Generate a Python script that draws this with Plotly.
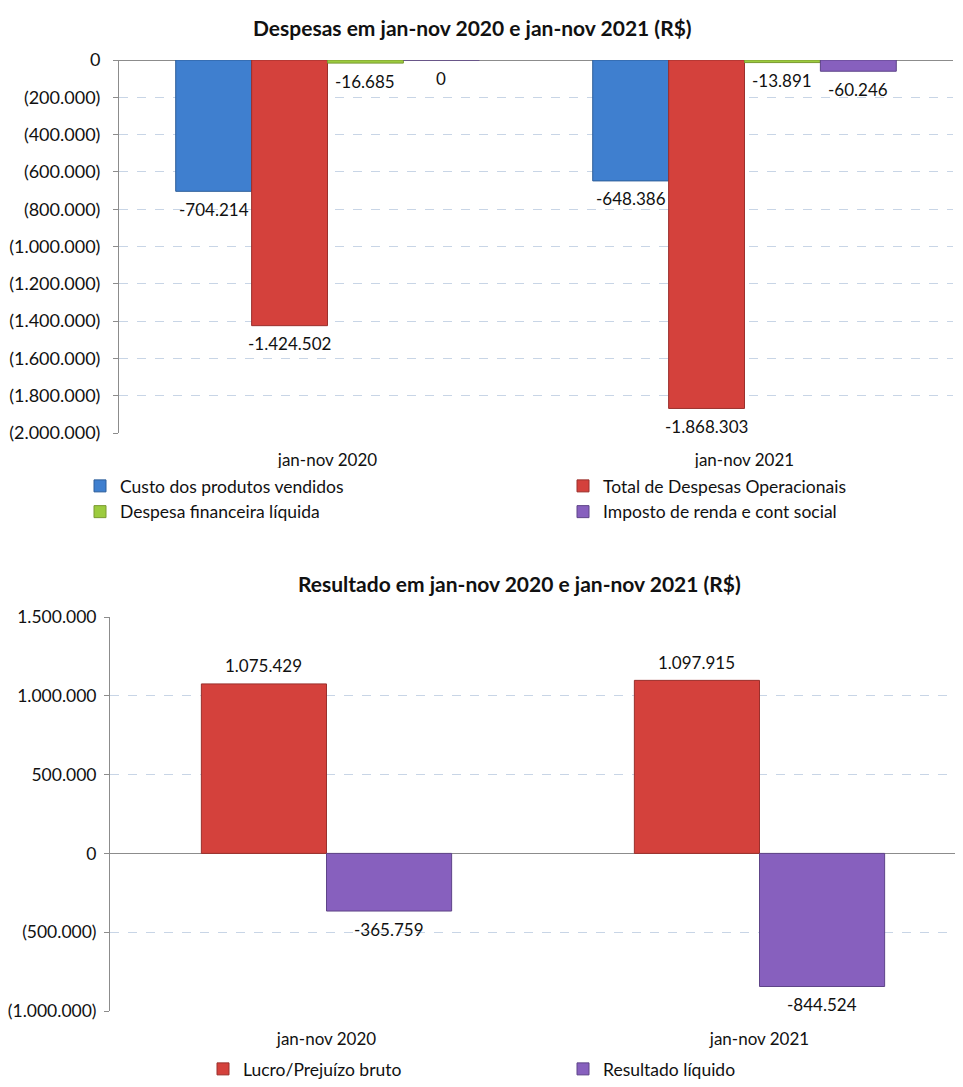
import plotly.graph_objects as go

categories = ["jan-nov 2020", "jan-nov 2021"]
custo_produtos = [-704214, -648386]
despesas_operacionais = [-1424502, -1868303]
despesa_financeira = [-16685, -13891]
imposto_renda = [0, -60246]
lucro_bruto = [1075429, 1097915]
resultado_liquido = [-365759, -844524]

y1_ticks = [0, -200000, -400000, -600000, -800000, -1000000, -1200000,
            -1400000, -1600000, -1800000, -2000000]
y1_text = ["0", "(200.000)", "(400.000)", "(600.000)", "(800.000)", "(1.000.000)",
           "(1.200.000)", "(1.400.000)", "(1.600.000)", "(1.800.000)", "(2.000.000)"]
y2_ticks = [1500000, 1000000, 500000, 0, -500000, -1000000]
y2_text = ["1.500.000", "1.000.000", "500.000", "0", "(500.000)", "(1.000.000)"]

BLUE = "#3F7FCF"
RED = "#D4413C"
GREEN = "#9CCB3E"
PURPLE = "#8760BE"
FONT = "Lato"
TXT = "#111111"
# page body keeps its default 8px margin, so the figure is 16px smaller than the window
W, H = 947, 1071


def fmt(v):
    return f"{v:,}".replace(",", ".")


BW1 = 0.182  # bar width (category units) chart 1
BW2 = 0.289  # bar width chart 2

X1 = [111 / W, 945 / W]
X2 = [102 / W, 1.0]
Y1 = [1 - 425 / H, 1 - 52 / H]
Y2 = [1 - 1003 / H, 1 - 609 / H]
CAT2_PX = 433                      # pixels per category in chart 2 (plot runs past the edge)
X2_RANGE = [-0.5, -0.5 + (X2[1] - X2[0]) * W / CAT2_PX]
px_cat1 = (X1[1] - X1[0]) * W / len(categories)
px_cat2 = CAT2_PX

fig = go.Figure()
annotations = []


def add_bar(name, vals, color, edge, xa, ya, legend, width, offset, px_cat):
    fig.add_trace(go.Bar(
        name=name, x=categories, y=vals, xaxis=xa, yaxis=ya, legend=legend,
        width=width, offset=offset, legendgroup=name,
        marker=dict(color=color, line=dict(color=edge, width=1)),
        hoverinfo="x+y",
    ))
    shift = (offset + width / 2) * px_cat
    for c, v in zip(categories, vals):
        annotations.append(dict(
            x=c, y=v, xref=xa, yref=ya, text=fmt(v), showarrow=False,
            xshift=shift, yshift=18 if v > 0 else -18, yanchor="middle",
            font=dict(size=17, color=TXT, family=FONT)))


add_bar("Custo dos produtos vendidos", custo_produtos, BLUE, "#2F5F9A",
        "x", "y", "legend", BW1, -2 * BW1, px_cat1)
add_bar("Total de Despesas Operacionais", despesas_operacionais, RED, "#9A302C",
        "x", "y", "legend3", BW1, -BW1, px_cat1)
add_bar("Despesa financeira líquida", despesa_financeira, GREEN, "#7A9A30",
        "x", "y", "legend", BW1, 0, px_cat1)
add_bar("Imposto de renda e cont social", imposto_renda, PURPLE, "#5E4488",
        "x", "y", "legend3", BW1, BW1, px_cat1)
add_bar("Lucro/Prejuízo bruto", lucro_bruto, RED, "#9A302C",
        "x2", "y2", "legend2", BW2, -BW2, px_cat2)
add_bar("Resultado líquido", resultado_liquido, PURPLE, "#5E4488",
        "x2", "y2", "legend2", BW2, 0, px_cat2)

grid = dict(showgrid=True, gridcolor="#C8D5E6", griddash="dash", gridwidth=1)
catfont = dict(size=17, color=TXT, family=FONT)

annotations += [
    dict(text="<b>Despesas em jan-nov 2020 e jan-nov 2021 (R$)</b>", x=464 / W, y=1 - 19 / H,
         xref="paper", yref="paper", showarrow=False, yanchor="middle", xanchor="center",
         font=dict(size=21, family=FONT, color=TXT)),
    dict(text="<b>Resultado em jan-nov 2020 e jan-nov 2021 (R$)</b>", x=512 / W, y=1 - 575 / H,
         xref="paper", yref="paper", showarrow=False, yanchor="middle", xanchor="center",
         font=dict(size=21, family=FONT, color=TXT)),
]

legfont = dict(size=17.5, family=FONT, color=TXT)
yaxis_common = dict(showline=True, linecolor="#8C8C8C", ticks="outside",
                    ticklen=5, tickcolor="#8C8C8C", zeroline=True,
                    zerolinecolor="#8C8C8C", zerolinewidth=1, automargin=False, **grid)

fig.update_layout(
    width=W, height=H,
    margin=dict(l=0, r=0, t=0, b=0, autoexpand=False),
    paper_bgcolor="white", plot_bgcolor="white",
    separators=",.",
    barmode="group",
    font=dict(family=FONT, color=TXT),
    hovermode="closest",
    xaxis=dict(domain=X1, anchor="y", showgrid=False,
               ticks="outside", ticklen=12, tickcolor="rgba(0,0,0,0)",
               tickfont=catfont, automargin=False),
    yaxis=dict(domain=Y1, anchor="x", range=[-2000000, 0],
               tickvals=y1_ticks, ticktext=y1_text, ticklabelstandoff=9,
               tickfont=dict(size=18, color=TXT, family=FONT), **yaxis_common),
    xaxis2=dict(domain=X2, anchor="y2", showgrid=False, range=X2_RANGE,
                ticks="outside", ticklen=13, tickcolor="rgba(0,0,0,0)",
                tickfont=catfont, automargin=False),
    yaxis2=dict(domain=Y2, anchor="x2", range=[-1000000, 1500000],
                tickvals=y2_ticks, ticktext=y2_text, ticklabelstandoff=4,
                tickfont=dict(size=17.5, color=TXT, family=FONT), **yaxis_common),
    legend=dict(orientation="v", x=72 / W, y=1 - 460 / H, xanchor="left", yanchor="top",
                itemwidth=30, font=legfont, traceorder="normal", tracegroupgap=8),
    legend3=dict(orientation="v", x=555 / W, y=1 - 460 / H, xanchor="left", yanchor="top",
                 itemwidth=30, font=legfont, traceorder="normal", tracegroupgap=8),
    legend2=dict(orientation="h", x=195 / W, y=1 - 1043 / H, xanchor="left", yanchor="top",
                 entrywidth=315, entrywidthmode="pixels", itemwidth=30,
                 font=legfont, traceorder="normal"),
    annotations=annotations,
)

fig.write_html("out.html", config={"displayModeBar": False})
